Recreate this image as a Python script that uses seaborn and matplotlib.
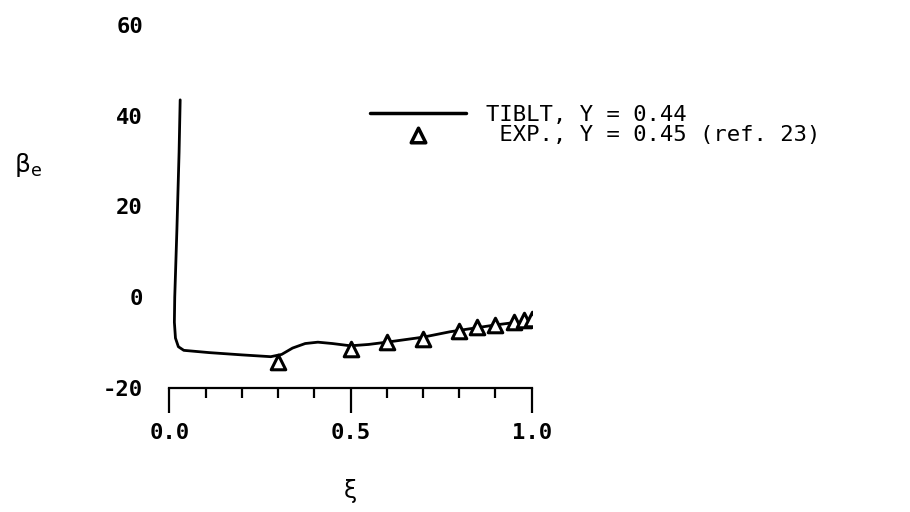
import matplotlib
matplotlib.use("Agg")
import matplotlib.pyplot as plt
import seaborn as sns
import numpy as np
from matplotlib.ticker import MultipleLocator

# ---- data ----
tiblt_xi = [0.030, 0.027, 0.021, 0.015, 0.014, 0.017, 0.025, 0.040, 0.110, 0.200,
            0.280, 0.310, 0.340, 0.375, 0.410, 0.450, 0.500, 0.550, 0.600, 0.700,
            0.775, 0.850, 0.900, 0.950, 1.000]
tiblt_beta = [43.5, 32.0, 15.0, 0.0, -5.5, -9.0, -10.9, -11.7, -12.2, -12.7,
              -13.1, -12.6, -11.2, -10.2, -9.9, -10.2, -10.7, -10.4, -9.9, -8.8,
              -7.6, -6.7, -6.1, -5.6, -5.4]
exp_xi = [0.30, 0.50, 0.60, 0.70, 0.80, 0.85, 0.90, 0.95, 0.98, 1.00]
exp_beta = [-14.2, -11.4, -9.9, -9.2, -7.4, -6.6, -6.1, -5.4, -5.0, -4.7]

x_ticks = [0.0, 0.5, 1.0]
x_tick_labels = ["0.0", "0.5", "1.0"]
y_ticks = [-20, 0, 20, 40, 60]
y_tick_labels = ["-20", "0", "20", "40", "60"]
label_tiblt = "TIBLT, Y = 0.44"
label_exp = " EXP., Y = 0.45 (ref. 23)"

sns.set_style("white")
plt.rcParams["mathtext.fontset"] = "dejavusans"
plt.rcParams["text.color"] = "black"
plt.rcParams["xtick.color"] = "black"
plt.rcParams["ytick.color"] = "black"
plt.rcParams["axes.labelcolor"] = "black"

W, H = 910, 512
fig = plt.figure(figsize=(W / 100, H / 100), dpi=100)
ax = fig.add_axes([169.3 / W, 1 - 388 / H, 362.4 / W, (388 - 25) / H])

sns.lineplot(x=tiblt_xi, y=tiblt_beta, sort=False, estimator=None, color="black",
             linewidth=2.0, ax=ax, label=label_tiblt, zorder=2)
sns.scatterplot(x=exp_xi, y=exp_beta, marker="^", s=110, facecolor="white",
                edgecolor="black", linewidth=2.2, ax=ax, label=label_exp, zorder=3)

ax.set_xlim(0, 1)
ax.set_ylim(-20, 60)
for s in ["left", "right", "top"]:
    ax.spines[s].set_visible(False)
ax.spines["bottom"].set_linewidth(1.6)
ax.spines["bottom"].set_color("black")

tick_font = dict(family="DejaVu Sans Mono", weight="bold", size=16, color="black")
ax.set_xticks(x_ticks)
ax.set_xticklabels(x_tick_labels, **tick_font)
ax.xaxis.set_minor_locator(MultipleLocator(0.1))
ax.tick_params(axis="x", which="major", direction="out", length=18, width=1.6,
               color="black", pad=7, bottom=True)
ax.tick_params(axis="x", which="minor", direction="out", length=7.5, width=1.6,
               color="black", bottom=True)
ax.set_yticks(y_ticks)
ax.set_yticklabels(y_tick_labels, **tick_font)
ax.tick_params(axis="y", which="both", length=0, pad=19)

ax.set_xlabel("ξ", fontsize=17, labelpad=26, family="DejaVu Sans", color="black")
ax.set_ylabel(r"$\mathrm{\beta}_\mathrm{e}$", fontsize=18, rotation=0,
              ha="center", va="center", color="black")
ax.yaxis.set_label_coords(-0.39, 0.614)

handles, labels = ax.get_legend_handles_labels()
leg = ax.legend(handles, labels, loc="upper left",
                bbox_to_anchor=(370 / W, 1 - 105 / H), bbox_transform=fig.transFigure,
                frameon=False, borderpad=0, borderaxespad=0, handlelength=4.3,
                handletextpad=0.9, labelspacing=0.0,
                prop=dict(family="DejaVu Sans Mono", size=16))
for t in leg.get_texts():
    t.set_color("black")
for h in leg.legend_handles:
    try:
        h.set_linewidth(2.5)
    except Exception:
        pass

fig.savefig("out.png", dpi=100)
